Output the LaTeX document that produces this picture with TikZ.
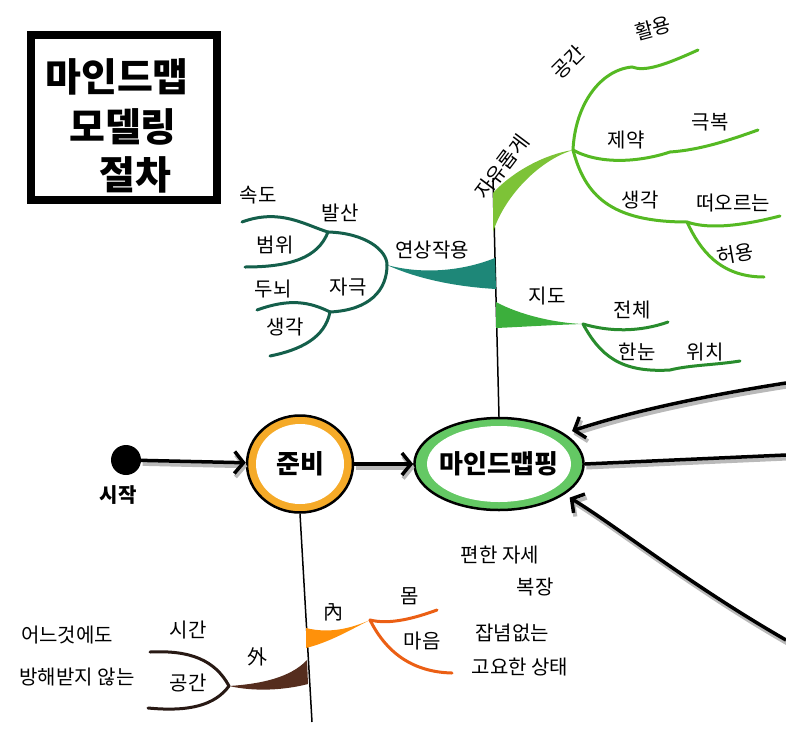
\documentclass[tikz,border=0pt]{standalone}
\usepackage{fontspec}
\setmainfont{Noto Sans CJK KR}
\definecolor{tealdark}{RGB}{20, 95, 75}
\definecolor{tealfill}{RGB}{30, 135, 120}
\definecolor{leafgreen}{RGB}{85, 185, 35}
\definecolor{leaffill}{RGB}{125, 195, 55}
\definecolor{mapgreen}{RGB}{40, 140, 45}
\definecolor{mapfill}{RGB}{60, 175, 60}
\definecolor{barkbrown}{RGB}{85, 45, 30}
\definecolor{twigbrown}{RGB}{40, 25, 20}
\definecolor{innerorange}{RGB}{255, 145, 10}
\definecolor{twigorange}{RGB}{235, 95, 20}
\definecolor{ringorange}{RGB}{245, 170, 40}
\definecolor{ringgreen}{RGB}{100, 200, 100}
\definecolor{shadowgray}{RGB}{185, 185, 185}
\usetikzlibrary{shapes, arrows.meta, positioning, calc}

\begin{document}
\begin{tikzpicture}[x=1pt, y=-1pt,
  lbl/.style={inner sep=0pt, font=\fontsize{20}{22}\selectfont},
  stage/.style n args={3}{ellipse, draw=black, line width=2.5pt, inner sep=0pt, fill=#1,
    font=\bfseries\fontsize{26}{28}\selectfont,
    path picture={\fill[white] (path picture bounding box.center) ellipse [x radius=#2, y radius=#3];}},
  flow/.style={line width=3.5pt, -{Straight Barb[length=9pt, width=22pt]},
    preaction={draw=shadowgray, line width=4pt, transform canvas={shift={(1.5pt,-3.5pt)}}}},
  trunk/.style={line width=1.5pt},
  twig/.style={line width=3pt, line cap=round}]

  \useasboundingbox (0,0) rectangle (786,739);

  \node[draw, line width=8pt, minimum width=186pt, minimum height=165pt] (titlebox) at (124,117) {};
  \node[font=\bfseries\fontsize{39}{41}\selectfont, inner sep=0pt] (title1) at (117,77) {마인드맵};
  \node[font=\bfseries\fontsize{39}{41}\selectfont, inner sep=0pt] (title2) at (123,127) {모델링};
  \node[font=\bfseries\fontsize{39}{41}\selectfont, inner sep=0pt] (title3) at (135,175) {절차};

  \node[circle, fill=black, minimum size=30pt, inner sep=0pt] (start) at (126,460) {};
  \node[font=\bfseries\fontsize{20}{22}\selectfont, inner sep=0pt] (startlbl) at (118,495) {시작};
  \node[stage={ringorange}{44pt}{40pt}, minimum width=106pt, minimum height=97pt] (prep) at (300,464) {준비};
  \node[stage={ringgreen}{72pt}{38pt}, minimum width=160pt, minimum height=92pt] (mm) at (499,464) {마인드맵핑};

  \draw[flow] (start) -- (prep);
  \draw[flow] (prep) -- (mm);

  \coordinate (inA) at (786,383);
  \coordinate (outB) at (786,455);
  \coordinate (inC) at (786,640);
  \draw[flow, shorten >=8pt] (inA) .. controls (690,398) and (620,415) .. (mm.25);
  \draw[line width=3.5pt, preaction={draw=shadowgray, line width=4pt, transform canvas={shift={(1.5pt,-3.5pt)}}}] (mm.east) -- (outB);
  \draw[flow, shorten >=6pt] (inC) .. controls (690,585) and (615,525) .. (mm.-25);

  \coordinate (freetop) at (493,178);
  \draw[trunk] (freetop) -- (mm.north);
  \coordinate (groundend) at (312,722);
  \draw[trunk] (prep.south) -- (groundend);

  \coordinate (assoc) at (387,265);
  \coordinate (diverge) at (328,232);
  \coordinate (stim) at (330,312);
  \fill[tealfill] (495,258) .. controls (460,272) and (420,274) .. (assoc)
    .. controls (420,280) and (460,287) .. (496,289) -- cycle;
  \draw[twig, tealdark] (assoc) .. controls (387,250) and (365,233) .. (diverge);
  \draw[twig, tealdark] (diverge) .. controls (305,225) and (280,208) .. (242,222);
  \draw[twig, tealdark] (diverge) .. controls (318,258) and (290,267) .. (245,267);
  \draw[twig, tealdark] (assoc) .. controls (387,290) and (370,310) .. (stim);
  \draw[twig, tealdark] (stim) .. controls (310,302) and (290,298) .. (257,310);
  \draw[twig, tealdark] (stim) .. controls (325,338) and (300,350) .. (270,356);
  \node[lbl] (assoclbl) at (432,250) {연상작용};
  \node[lbl] (divergelbl) at (340,213) {발산};
  \node[lbl] (speedlbl) at (258,195) {속도};
  \node[lbl] (rangelbl) at (275,245) {범위};
  \node[lbl] (stimlbl) at (348,287) {자극};
  \node[lbl] (brainlbl) at (273,289) {두뇌};
  \node[lbl] (thinklbl) at (285,327) {생각};

  \coordinate (free) at (573,150);
  \coordinate (idea) at (687,222);
  \fill[leaffill] (493,193) .. controls (512,172) and (545,154) .. (free)
    .. controls (540,160) and (505,195) .. (493,232) -- cycle;
  \draw[twig, leafgreen] (free) .. controls (575,105) and (600,70) .. (632,67)
    .. controls (645,72) and (665,65) .. (698,50);
  \draw[twig, leafgreen] (free) .. controls (600,165) and (640,162) .. (670,152)
    .. controls (700,150) and (730,140) .. (758,130);
  \draw[twig, leafgreen] (free) .. controls (585,195) and (610,222) .. (idea);
  \draw[twig, leafgreen] (idea) .. controls (710,230) and (745,225) .. (780,216);
  \draw[twig, leafgreen] (idea) .. controls (700,250) and (720,277) .. (764,277);
  \node[lbl, rotate=53] (freelbl) at (502,167) {자유롭게};
  \node[lbl, rotate=45] (spacelbl) at (568,62) {공간};
  \node[lbl, rotate=15] (uselbl) at (653,28) {활용};
  \node[lbl] (limitlbl) at (626,140) {제약};
  \node[lbl] (overcomelbl) at (710,122) {극복};
  \node[lbl] (idealbl) at (640,200) {생각};
  \node[lbl] (riselbl) at (733,203) {떠오르는};
  \node[lbl, rotate=10] (allowlbl) at (735,254) {허용};

  \coordinate (map) at (583,324);
  \fill[mapfill] (496,302) .. controls (520,315) and (555,323) .. (map)
    .. controls (550,325) and (520,327) .. (496,328) -- cycle;
  \draw[twig, mapgreen] (map) .. controls (610,332) and (640,332) .. (668,322);
  \draw[twig, mapgreen] (map) .. controls (600,355) and (620,373) .. (670,370)
    .. controls (690,365) and (715,365) .. (740,361);
  \node[lbl] (maplbl) at (547,296) {지도};
  \node[lbl] (wholelbl) at (632,310) {전체};
  \node[lbl] (glancelbl) at (637,352) {한눈};
  \node[lbl] (placelbl) at (705,352) {위치};

  \coordinate (outer) at (229,686);
  \fill[barkbrown] (307,660) .. controls (290,678) and (260,684) .. (outer)
    .. controls (255,692) and (285,690) .. (308,684) -- cycle;
  \draw[twig, twigbrown] (outer) .. controls (215,660) and (190,650) .. (150,652);
  \draw[twig, twigbrown] (outer) .. controls (215,705) and (190,712) .. (148,708);
  \node[lbl] (outerlbl) at (257,657) {外};
  \node[lbl] (timelbl) at (188,630) {시간};
  \node[lbl] (roomlbl) at (188,683) {공간};
  \node[lbl] (anylbl) at (67,635) {어느것에도};
  \node[lbl] (undisturbedlbl) at (77,677) {방해받지 않는};

  \coordinate (inner) at (370,620);
  \fill[innerorange] (306,628) .. controls (330,634) and (352,628) .. (inner)
    .. controls (350,630) and (330,642) .. (306,648) -- cycle;
  \draw[twig, twigorange] (inner) .. controls (390,625) and (415,618) .. (437,610);
  \draw[twig, twigorange] (inner) .. controls (385,650) and (410,672) .. (452,673);
  \node[lbl] (innerlbl) at (333,612) {內};
  \node[lbl] (bodylbl) at (410,596) {몸};
  \node[lbl] (mindlbl) at (422,641) {마음};
  \node[lbl] (posturelbl) at (500,555) {편한 자세};
  \node[lbl] (clotheslbl) at (535,587) {복장};
  \node[lbl] (clearlbl) at (512,633) {잡념없는};
  \node[lbl] (calmlbl) at (520,667) {고요한 상태};
\end{tikzpicture}
\end{document}
